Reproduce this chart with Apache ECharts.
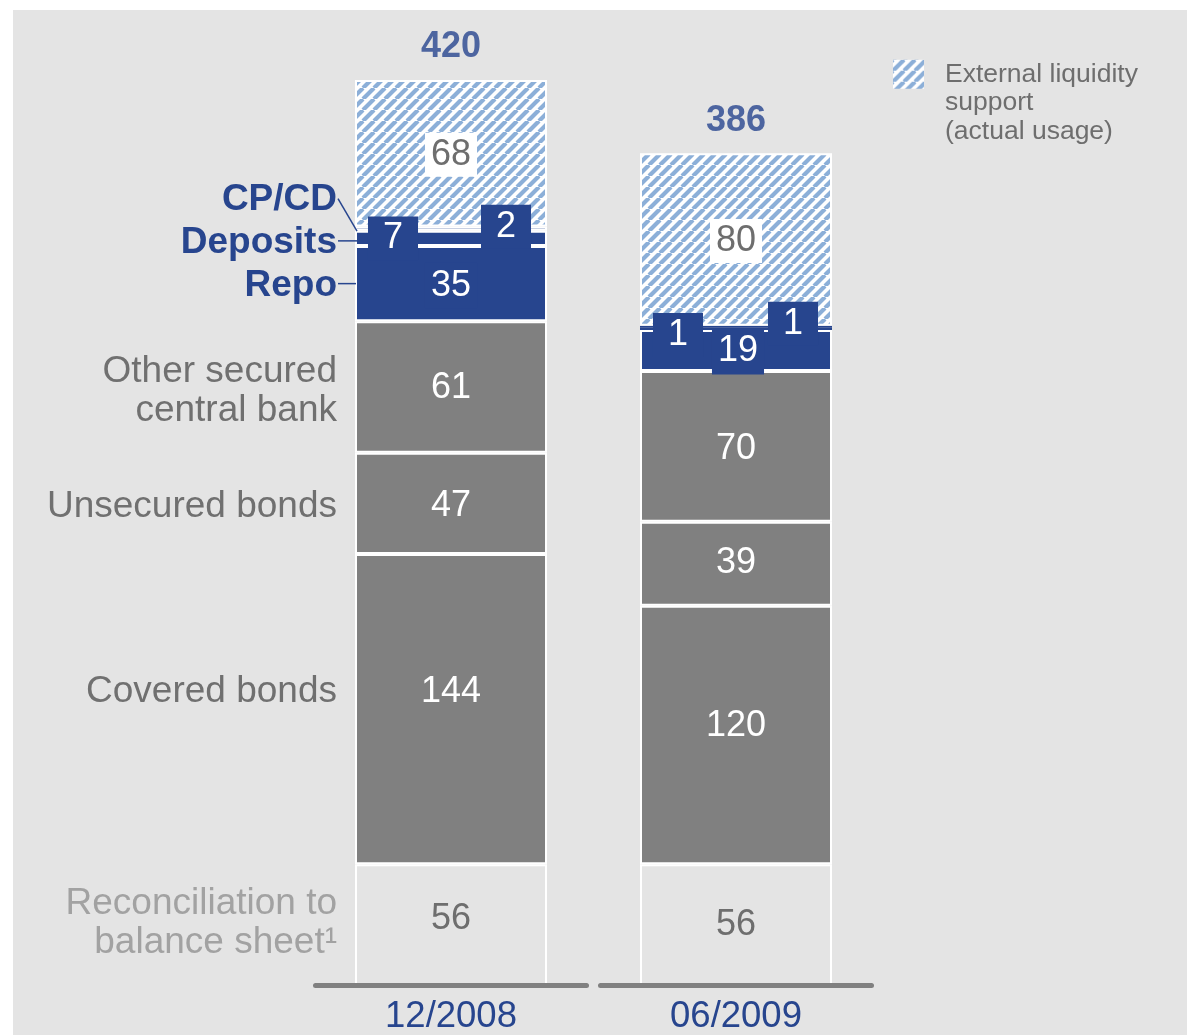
<!DOCTYPE html>
<html>
<head>
<meta charset="utf-8">
<script src="https://cdn.jsdelivr.net/npm/echarts/dist/echarts.min.js"></script>
<style>
html,body{margin:0;padding:0;background:#fff;}
#wrap{position:relative;width:1187px;height:1035px;overflow:hidden;}
#bg{position:absolute;left:13px;top:10px;right:0;bottom:0;background:#e4e4e4;}
#chart{position:absolute;left:0;top:0;width:1187px;height:1035px;}
</style>
</head>
<body>
<div id="wrap"><div id="bg"></div><div id="chart"></div></div>
<script>
// ---- data ----
const categories = ['12/2008', '06/2009'];
const reconciliation = [56, 56];
const coveredBonds = [144, 120];
const unsecuredBonds = [47, 39];
const otherSecuredCB = [61, 70];
const repo = [35, 19];
const deposits = [7, 1];
const cpcd = [2, 1];
const externalSupport = [68, 80];
const segmentNames = ['Reconciliation to\nbalance sheet\u00B9', 'Covered bonds', 'Unsecured bonds',
  'Other secured\ncentral bank', 'Repo', 'Deposits', 'CP/CD', 'External liquidity support (actual usage)'];
const legendText = '\n\nExternal liquidity\nsupport\n(actual usage)';

// ---- styles ----
const FONT = '"Liberation Sans", Arial, sans-serif';
const BLUE = '#27458e', GRAY = '#808080', BG = '#e4e4e4', TXT = '#6e6e6e';
const BAR_W = 192;

function makeHatch() {
  const s = 11;
  const c = document.createElement('canvas');
  c.width = s; c.height = s;
  const ctx = c.getContext('2d');
  ctx.fillStyle = '#ffffff'; ctx.fillRect(0, 0, s, s);
  ctx.strokeStyle = '#8cafd8'; ctx.lineWidth = 4.2;
  ctx.beginPath();
  [-s, 0, s].forEach(o => { ctx.moveTo(o, s); ctx.lineTo(o + s, 0); });
  ctx.stroke();
  return c;
}
const hatch = { image: makeHatch(), repeat: 'repeat' };

const valueArrays = [reconciliation, coveredBonds, unsecuredBonds, otherSecuredCB, repo, deposits, cpcd, externalSupport];
const segStyle = [
  { color: BG,   label: { color: TXT } , nameColor: '#a2a2a2' },
  { color: GRAY, label: { color: '#fff' }, nameColor: '#707070' },
  { color: GRAY, label: { color: '#fff' }, nameColor: '#707070' },
  { color: GRAY, label: { color: '#fff' }, nameColor: '#707070' },
  { color: BLUE, label: { color: '#fff', backgroundColor: BLUE, padding: [5, 6] }, nameColor: BLUE, bold: true, leader: 'flat' },
  { color: BLUE, label: { color: '#fff', backgroundColor: BLUE, padding: [4, 15] }, nameColor: BLUE, bold: true, leader: 'low' },
  { color: BLUE, label: { color: '#fff', backgroundColor: BLUE, padding: [4, 15] }, nameColor: BLUE, bold: true, leader: 'diag' },
  { color: hatch, label: { color: TXT, backgroundColor: '#fff', padding: [4, 6] } }
];
// label offsets [dx, dy] per category
const labelShift = [
  [[0, -5.5], [0, 0.5]],
  [[0, -17.5], [0, -8.5]],
  [[0, 2.5], [0, -0.5]],
  [[0, 1.5], [0, 2.5]],
  [[0, 2], [2, 1]],
  [[-58, 0], [-58, 6]],
  [[55, -2], [57, -3]],
  [[0, 1.5], [0, 1.5]]
];
const nameDy = [-1, -17, 3, 4, 2, 4, -29, 0];

const totals = categories.map((c, i) => valueArrays.reduce((s, a) => s + a[i], 0));

const series = valueArrays.map((arr, si) => ({
  type: 'bar',
  name: segmentNames[si],
  stack: 'total',
  barWidth: BAR_W,
  z: 2,
  itemStyle: { color: segStyle[si].color, borderColor: '#fff', borderWidth: 2 },
  label: Object.assign({ show: true, position: 'inside', fontSize: 36, lineHeight: 36, fontFamily: FONT }, segStyle[si].label),
  data: arr.map((v, ci) => ({
    value: v,
    itemStyle: v <= 1 ? { borderColor: BLUE } : undefined,
    label: { offset: labelShift[si][ci] }
  }))
}));

// left-side segment names for the first bar
const nameData = [];
let base = 0;
valueArrays.forEach((arr, si) => { nameData.push([0, base, arr[0], si]); base += arr[0]; });
series.push({
  type: 'custom',
  silent: true,
  z: 6,
  encode: { x: 0, y: 1 },
  data: nameData.filter(d => d[3] < 7),
  renderItem: function (params, api) {
    const si = api.value(3), b = api.value(1), v = api.value(2);
    const p0 = api.coord([0, b]), p1 = api.coord([0, b + v]);
    const yc = (p0[1] + p1[1]) / 2;
    const barLeft = p0[0] - BAR_W / 2;
    const xr = barLeft - 18;
    const st = segStyle[si];
    const ty = yc + nameDy[si];
    const children = [{
      type: 'text',
      x: xr, y: ty,
      style: {
        text: segmentNames[si], align: 'right', verticalAlign: 'middle',
        font: (st.bold ? 'bold ' : '') + '37px ' + FONT, lineHeight: 39, fill: st.nameColor
      }
    }];
    if (st.leader) {
      let shape;
      if (st.leader === 'flat') shape = { x1: xr + 1, y1: yc, x2: barLeft + 1, y2: yc };
      else if (st.leader === 'low') shape = { x1: xr + 1, y1: yc + 2.5, x2: barLeft + 2, y2: yc + 2.5 };
      else shape = { x1: xr + 1, y1: yc - 30, x2: barLeft + 2, y2: yc + 2.5 };
      children.push({ type: 'line', shape: shape, style: { stroke: BLUE, lineWidth: 1.5 } });
    }
    return { type: 'group', children: children };
  }
});

// axis base segments (one under each category)
series.push({
  type: 'custom',
  silent: true,
  z: 10,
  encode: { x: 0, y: 1 },
  data: categories.map((c, i) => [i, 0]),
  renderItem: function (params, api) {
    const p = api.coord([api.value(0), 0]);
    const bw = api.size([1, 0])[0];
    return {
      type: 'line',
      shape: { x1: p[0] - bw / 2 + 7, y1: p[1] + 0.5, x2: p[0] + bw / 2 - 7, y2: p[1] + 0.5 },
      style: { stroke: GRAY, lineWidth: 5, lineCap: 'round' }
    };
  }
});

// totals above bars
series.push({
  type: 'scatter',
  silent: true,
  z: 10,
  symbolSize: 1,
  itemStyle: { color: 'rgba(0,0,0,0)' },
  label: { show: true, position: 'top', distance: 14, formatter: p => p.value[1],
    fontSize: 36, fontWeight: 'bold', color: BLUE, fontFamily: FONT },
  data: categories.map((c, i) => [i, totals[i]])
});

const chart = echarts.init(document.getElementById('chart'), null, { renderer: 'canvas' });
chart.setOption({
  animation: false,
  backgroundColor: 'transparent',
  grid: { left: 308.5, right: 308.5, top: 80, bottom: 50 },
  legend: {
    data: [segmentNames[7]],
    left: 893, top: 3, padding: 0,
    icon: 'rect', itemWidth: 31, itemHeight: 29,
    selectedMode: false,
    formatter: () => legendText,
    itemStyle: { borderWidth: 0 },
    textStyle: { fontSize: 26.5, lineHeight: 28.5, color: TXT, fontFamily: FONT, padding: [0, 0, 0, 16] }
  },
  xAxis: {
    type: 'category', data: categories,
    axisLine: { show: false }, axisTick: { show: false },
    axisLabel: { color: BLUE, fontSize: 36.5, margin: 13, fontFamily: FONT }
  },
  yAxis: { type: 'value', min: 0, max: Math.max(...totals), show: false },
  series: series
});
</script>
</body>
</html>
